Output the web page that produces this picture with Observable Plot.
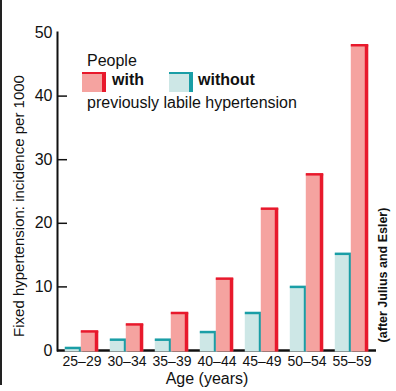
<!DOCTYPE html>
<html><head><meta charset="utf-8">
<script src="https://cdn.jsdelivr.net/npm/d3@7"></script>
<script src="https://cdn.jsdelivr.net/npm/@observablehq/plot@0.6"></script>
<style>
body{margin:0;background:#fff;font-family:"Liberation Sans",Arial,Helvetica,sans-serif;}
#wrap{position:relative;width:396px;height:391px;overflow:hidden;background:#fff}
#wrap svg{position:absolute;left:0;top:0}
.lg{position:absolute;font-size:16px;line-height:16px;color:#111;white-space:nowrap}
.rot{position:absolute;width:0;height:0}
.rot span{position:absolute;left:0;top:0;white-space:nowrap;color:#111;line-height:1;transform:translate(-50%,-50%) rotate(-90deg)}
.sw{position:absolute;width:20px;height:18px;border-right:4px solid;border-top:2px solid}
.edge{position:absolute;left:0;top:0;width:2px;height:385px;background:#222}
</style></head><body>
<div id="wrap"></div>
<script>
// ---- data ----
const ages = ["25–29","30–34","35–39","40–44","45–49","50–54","55–59"];
const withVals = [3, 4.1, 5.9, 11.3, 22.3, 27.7, 48];
const withoutVals = [0.4, 1.7, 1.7, 2.9, 5.9, 10, 15.2];
const yTicks = [0, 10, 20, 30, 40, 50];
const legendTitle = "People";
const seriesNames = ["with", "without"];
const legendFoot = "previously labile hypertension";
const yLabel = "Fixed hypertension: incidence per 1000";
const xLabel = "Age (years)";
const note = "(after Julius and Esler)";

// ---- layout ----
const W = 396, H = 391, mL = 57, mR = 20, mT = 32, mB = 41;
const colors = {
  withBody: "#f5a3a0", withEdge: "#e8192c",
  withoutBody: "#cde7e6", withoutEdge: "#1a9ea6"
};
const rows = ages.map((a, i) => ({age: a, with: withVals[i], without: withoutVals[i]}));
const step = (W - mL - mR) / ages.length;
const barW = 18, side = 4;
const cyL = step / 2 - 17, cyR = step - cyL - barW;
const pkL = step / 2 - 1, pkR = step - pkL - barW;

function bar3d(key, L, R, body, edge) {
  return [
    Plot.barY(rows, {x: "age", y: key, fill: body, insetLeft: L, insetRight: R, insetBottom: -1.5}),
    Plot.barY(rows, {x: "age", y: key, fill: edge, insetLeft: L + barW - side, insetRight: R, insetBottom: -1.5}),
    Plot.tickY(rows, {x: "age", y: key, stroke: edge, strokeWidth: 2.5, insetLeft: L, insetRight: R})
  ];
}

const chart = Plot.plot({
  width: W, height: H,
  marginLeft: mL, marginRight: mR, marginTop: mT, marginBottom: mB,
  style: {fontFamily: '"Liberation Sans", Arial, sans-serif', color: "#111", background: "transparent"},
  x: {type: "band", domain: ages, padding: 0, label: null},
  y: {domain: [0, 50], label: null},
  marks: [
    Plot.ruleY([0], {stroke: "#111", strokeWidth: 2.5}),
    ...bar3d("without", cyL, cyR, colors.withoutBody, colors.withoutEdge),
    ...bar3d("with", pkL, pkR, colors.withBody, colors.withEdge),
    Plot.frame({anchor: "left", stroke: "#111", strokeWidth: 2}),
    Plot.tickY(yTicks.filter(d => d > 0 && d < 50), {y: d => d, stroke: "#111", strokeWidth: 1.5, insetRight: W - mL - mR - 10}),
    Plot.axisY(yTicks, {tickSize: 0, tickPadding: 5, fontSize: 16, label: null}),
    Plot.axisX({tickSize: 0, tickPadding: 6, fontSize: 14, label: null}),
    Plot.text([xLabel], {text: d => d, frameAnchor: "bottom", dx: -10, dy: 33, fontSize: 16})
  ]
});

const wrap = document.getElementById("wrap");
wrap.appendChild(chart);

function add(html) { wrap.insertAdjacentHTML("beforeend", html); }
add(`<div class="edge"></div>`);
add(`<div class="rot" style="left:18px;top:206px"><span style="font-size:15px">${yLabel}</span></div>`);
add(`<div class="rot" style="left:383px;top:275px"><span style="font-size:12.5px;font-weight:bold">${note}</span></div>`);
add(`<div class="lg" style="left:87px;top:53px">${legendTitle}</div>`);
add(`<div class="sw" style="left:82px;top:72px;background:${colors.withBody};border-color:${colors.withEdge}"></div>`);
add(`<div class="lg" style="left:112px;top:72px;font-weight:bold">${seriesNames[0]}</div>`);
add(`<div class="sw" style="left:169px;top:72px;background:${colors.withoutBody};border-color:${colors.withoutEdge}"></div>`);
add(`<div class="lg" style="left:198px;top:72px;font-weight:bold">${seriesNames[1]}</div>`);
add(`<div class="lg" style="left:87px;top:95px">${legendFoot}</div>`);
</script>
</body></html>
